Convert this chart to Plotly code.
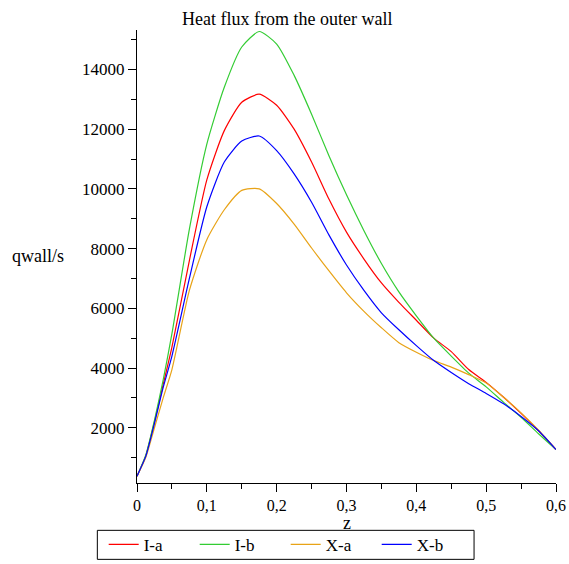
import plotly.graph_objects as go

# --- data ---
z = [0, 0.0125, 0.025, 0.0375, 0.05, 0.075, 0.1, 0.125, 0.15, 0.175, 0.2, 0.225,
     0.25, 0.275, 0.3, 0.325, 0.35, 0.375, 0.4, 0.425, 0.45, 0.475, 0.5, 0.525,
     0.55, 0.575, 0.6]

q_ia = [380, 1050, 2200, 3450, 4700, 7600, 10300, 11950, 12900, 13170, 12800, 12000,
        10900, 9650, 8550, 7650, 6850, 6200, 5600, 5000, 4550, 3950, 3520, 3020,
        2480, 1900, 1270]
q_ib = [380, 1080, 2250, 3600, 5150, 8650, 11500, 13400, 14750, 15270, 14850, 13800,
        12500, 11100, 9800, 8600, 7500, 6550, 5750, 5000, 4400, 3830, 3370, 2850,
        2350, 1800, 1270]
q_xa = [380, 1000, 2000, 3000, 3950, 6600, 8300, 9300, 9950, 10000, 9510, 8820,
        8020, 7250, 6520, 5900, 5350, 4850, 4530, 4250, 4030, 3780, 3500, 3020,
        2500, 1920, 1270]
q_xb = [380, 1040, 2150, 3350, 4400, 7000, 9400, 10900, 11600, 11770, 11280, 10500,
        9550, 8450, 7450, 6600, 5850, 5280, 4750, 4250, 3850, 3475, 3150, 2800,
        2380, 1900, 1270]

series_names = ["I-a", "I-b", "X-a", "X-b"]
series_colors = ["#ff0000", "#33cc33", "#e8a317", "#0000ff"]

x_ticks = [0, 0.1, 0.2, 0.3, 0.4, 0.5, 0.6]
x_tick_labels = ["0", "0,1", "0,2", "0,3", "0,4", "0,5", "0,6"]
y_ticks = [2000, 4000, 6000, 8000, 10000, 12000, 14000]

FONT = "Liberation Serif"
# plot box in pixels
L, R, T, B = 136.7, 556, 30, 482.7
PW, PH = R - L, B - T


def px_x(p):
    return (p - L) / PW


def px_y(p):
    return (B - p) / PH


fig = go.Figure()
for name, color, ys in zip(series_names, series_colors, [q_ia, q_ib, q_xa, q_xb]):
    fig.add_trace(go.Scatter(
        x=z, y=ys, mode="lines", name=name,
        line=dict(color=color, width=1.2, shape="spline", smoothing=0.6),
    ))

axis_common = dict(
    showgrid=False, zeroline=False, automargin=False,
    showline=True, linecolor="black", linewidth=1,
    ticks="outside", ticklen=8, tickcolor="black",
    tickfont=dict(family=FONT, size=17),
)

fig.update_layout(
    width=569, height=564,
    paper_bgcolor="white", plot_bgcolor="white",
    font=dict(family=FONT, size=17, color="black"),
    margin=dict(l=L, r=569 - R, t=T, b=564 - B, autoexpand=False),
    showlegend=True,
    legend=dict(
        orientation="h", x=px_x(285.5), xanchor="center",
        y=px_y(544.5), yanchor="middle", bgcolor="rgba(0,0,0,0)",
        borderwidth=0, font=dict(family=FONT, size=17),
        entrywidth=46, entrywidthmode="pixels", tracegroupgap=0,
    ),
    # legend frame, drawn as a box
    shapes=[dict(type="rect", xref="paper", yref="paper",
                 x0=px_x(97), x1=px_x(474), y0=px_y(559), y1=px_y(530),
                 line=dict(color="black", width=1))],
    xaxis=dict(
        axis_common, range=[0, 0.6],
        tickvals=x_ticks, ticktext=x_tick_labels,
        tickfont=dict(family=FONT, size=16),
        minor=dict(ticks="outside", ticklen=5, dtick=0.05, tick0=0, tickcolor="black"),
    ),
    yaxis=dict(
        axis_common, range=[150, 15320],
        tickvals=y_ticks, tickformat="d",
        minor=dict(ticks="outside", ticklen=5, dtick=1000, tick0=0, tickcolor="black"),
    ),
    annotations=[
        dict(text="Heat flux from the outer wall", xref="paper", yref="paper",
             x=px_x(287), y=px_y(19), yanchor="middle", showarrow=False,
             font=dict(family=FONT, size=18)),
        dict(text="qwall/s", xref="paper", yref="paper",
             x=px_x(38), y=px_y(256), xanchor="center", yanchor="middle",
             showarrow=False, font=dict(family=FONT, size=18)),
        dict(text="z", xref="paper", yref="paper",
             x=px_x(346.5), y=px_y(523), xanchor="center", yanchor="middle",
             showarrow=False, font=dict(family=FONT, size=18)),
    ],
)

# drop the browser's default 8px body margin so the figure sits at the page corner
fig.write_html("out.html", config={"displayModeBar": False},
               post_script="document.body.style.margin = '0';")
